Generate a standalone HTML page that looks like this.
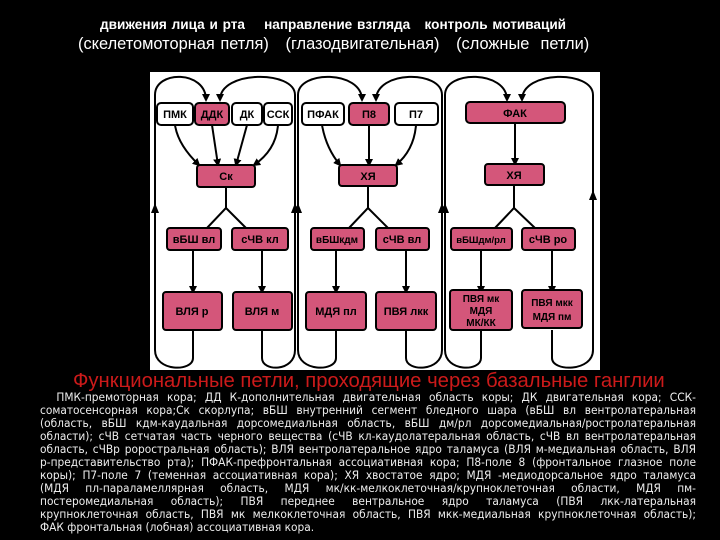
<!DOCTYPE html>
<html><head><meta charset="utf-8"><style>
body{margin:0;width:720px;height:540px;background:#000;overflow:hidden;position:relative;font-family:"Liberation Sans","DejaVu Sans",sans-serif}
.t{position:absolute;color:#fff;white-space:nowrap}
#p{position:absolute;left:40px;top:391px;width:656px;color:#eee;font-size:11.8px;line-height:13px;font-family:"DejaVu Sans Condensed","DejaVu Sans",sans-serif}
#p div{text-align:justify;text-align-last:justify;white-space:nowrap;overflow:hidden}
#p div.l{text-align-last:left}
</style></head><body>
<div class="t" style="left:100px;top:17px;font-size:13.6px;font-weight:bold;word-spacing:1px">движения лица и рта&nbsp;&nbsp;&nbsp; направление взгляда&nbsp;&nbsp; контроль мотиваций</div>
<div class="t" style="left:78px;top:35px;font-size:16.4px;word-spacing:1px">(скелетомоторная петля)&nbsp;&nbsp; (глазодвигательная)&nbsp;&nbsp; (сложные&nbsp; петли)</div>
<svg style="position:absolute;left:0;top:0" width="720" height="540" viewBox="0 0 720 540">
<defs><marker id="a" markerWidth="8" markerHeight="8" refX="6" refY="4" orient="auto" markerUnits="userSpaceOnUse"><path d="M0,0 L8,4 L0,8 Z" fill="#000"/></marker></defs>
<rect x="150" y="72" width="450" height="298" fill="#fff"/>
<g fill="none" stroke="#000" stroke-width="2">
<path d="M193 330 V358 C193 372 155 372 155 350 V95 C155 70 206 70 206 100" marker-end="url(#a)"/>
<path d="M262 330 V358 C262 372 295 372 295 350 V95 C295 70 220 70 220 100" marker-end="url(#a)"/>
<path d="M336 330 V358 C336 372 298 372 298 350 V95 C298 70 362 70 362 100" marker-end="url(#a)"/>
<path d="M406 330 V358 C406 372 442 372 442 350 V95 C442 70 376 70 376 100" marker-end="url(#a)"/>
<path d="M481 330 V358 C481 372 445 372 445 350 V95 C445 70 507 70 507 100" marker-end="url(#a)"/>
<path d="M552 330 V358 C552 372 593 372 593 350 V95 C593 70 522 70 522 100" marker-end="url(#a)"/>
<path d="M175 125 Q178 145 199 165" marker-end="url(#a)"/>
<path d="M212 125 L218 165" marker-end="url(#a)"/>
<path d="M247 125 L236 165" marker-end="url(#a)"/>
<path d="M278 125 Q276 150 254 165" marker-end="url(#a)"/>
<path d="M322 125 Q326 148 340 165" marker-end="url(#a)"/>
<path d="M369 125 L369 165" marker-end="url(#a)"/>
<path d="M416 125 Q414 150 396 165" marker-end="url(#a)"/>
<path d="M515 123 L515 164" marker-end="url(#a)"/>
<path d="M226 187 V208 L207 228 M226 208 L246 228"/>
<path d="M368 186 V208 L349 228 M368 208 L388 228"/>
<path d="M514 185 V208 L495 228 M514 208 L535 228"/>
<path d="M193 250 V292" marker-end="url(#a)"/><path d="M262 250 V292" marker-end="url(#a)"/>
<path d="M336 250 V292" marker-end="url(#a)"/><path d="M406 250 V292" marker-end="url(#a)"/>
<path d="M481 250 V292" marker-end="url(#a)"/><path d="M552 250 V292" marker-end="url(#a)"/>
</g>
<g fill="#000"><path d="M151 213 L155 203 L159 213Z"/><path d="M291 213 L295 203 L299 213Z"/><path d="M294 213 L298 203 L302 213Z"/><path d="M438 213 L442 203 L446 213Z"/><path d="M441 213 L445 203 L449 213Z"/><path d="M589 200 L593 190 L597 200Z"/></g>
<g stroke="#000" stroke-width="2" fill="#d4567a">
<rect x="157" y="103" width="36" height="22" rx="4" fill="#fff"/>
<rect x="195" y="103" width="34" height="22" rx="4"/>
<rect x="232" y="103" width="30" height="22" rx="4" fill="#fff"/>
<rect x="264" y="103" width="28" height="22" rx="4" fill="#fff"/>
<rect x="302" y="103" width="42" height="22" rx="4" fill="#fff"/>
<rect x="349" y="103" width="40" height="22" rx="4"/>
<rect x="395" y="103" width="43" height="22" rx="4" fill="#fff"/>
<rect x="466" y="102" width="99" height="21" rx="4"/>
<rect x="197" y="165" width="58" height="22" rx="3"/>
<rect x="339" y="165" width="58" height="21" rx="3"/>
<rect x="485" y="164" width="59" height="21" rx="3"/>
<rect x="167" y="228" width="54" height="22" rx="3"/>
<rect x="232" y="228" width="56" height="22" rx="3"/>
<rect x="311" y="228" width="53" height="22" rx="3"/>
<rect x="376" y="228" width="53" height="22" rx="3"/>
<rect x="451" y="228" width="61" height="22" rx="3"/>
<rect x="522" y="228" width="53" height="22" rx="3"/>
<rect x="163" y="292" width="59" height="38" rx="3"/>
<rect x="233" y="292" width="59" height="38" rx="3"/>
<rect x="306" y="292" width="60" height="38" rx="3"/>
<rect x="376" y="292" width="60" height="38" rx="3"/>
<rect x="450" y="290" width="62" height="40" rx="3"/>
<rect x="522" y="290" width="60" height="38" rx="3"/>
</g>
<g font-family="Liberation Sans,sans-serif" font-weight="bold" font-size="11" text-anchor="middle" fill="#000">
<text x="175" y="118">ПМК</text><text x="212" y="118">ДДК</text><text x="247" y="118">ДК</text><text x="278" y="118">ССК</text>
<text x="323" y="118">ПФАК</text><text x="369" y="118">П8</text><text x="416" y="118">П7</text><text x="515" y="117">ФАК</text>
<text x="226" y="180">Ск</text><text x="368" y="180">ХЯ</text><text x="514" y="179">ХЯ</text>
<text x="194" y="243">вБШ вл</text><text x="260" y="243">сЧВ кл</text><text x="337" y="243" font-size="10">вБШкдм</text><text x="402" y="243">сЧВ вл</text><text x="481" y="243" font-size="9.5">вБШдм/рл</text><text x="548" y="243">сЧВ ро</text>
<text x="192" y="315">ВЛЯ р</text><text x="262" y="315">ВЛЯ м</text><text x="336" y="315">МДЯ пл</text><text x="406" y="315">ПВЯ лкк</text>
<text x="481" y="302" font-size="10">ПВЯ мк</text><text x="481" y="314" font-size="10">МДЯ</text><text x="481" y="326" font-size="10">МК/КК</text>
<text x="552" y="306" font-size="10">ПВЯ мкк</text><text x="552" y="320" font-size="10">МДЯ пм</text>
</g>
</svg>
<div class="t" style="left:73px;top:370px;font-size:20.3px;color:#cc1a1a">Функциональные петли, проходящие через базальные ганглии</div>
<div id="p">
<div>&nbsp;&nbsp;ПМК-премоторная кора; ДД К-дополнительная двигательная область коры; ДК двигательная кора; ССК-</div>
<div>соматосенсорная кора;Ск скорлупа; вБШ внутренний сегмент бледного шара (вБШ вл вентролатеральная</div>
<div>(область, вБШ кдм-каудальная дорсомедиальная область, вБШ дм/рл дорсомедиальная/ростролатеральная</div>
<div>области); сЧВ сетчатая часть черного вещества (сЧВ кл-каудолатеральная область, сЧВ вл вентролатеральная</div>
<div>область, сЧВр роростральная область); ВЛЯ вентролатеральное ядро таламуса (ВЛЯ м-медиальная область, ВЛЯ</div>
<div>р-представительство рта); ПФАК-префронтальная ассоциативная кора; П8-поле 8 (фронтальное глазное поле</div>
<div>коры); П7-поле 7 (теменная ассоциативная кора); ХЯ хвостатое ядро; МДЯ -медиодорсальное ядро таламуса</div>
<div>(МДЯ пл-параламеллярная область, МДЯ мк/кк-мелкоклеточная/крупноклеточная области, МДЯ пм-</div>
<div>постеромедиальная область); ПВЯ переднее вентральное ядро таламуса (ПВЯ лкк-латеральная</div>
<div>крупноклеточная область, ПВЯ мк мелкоклеточная область, ПВЯ мкк-медиальная крупноклеточная область);</div>
<div class="l">ФАК фронтальная (лобная) ассоциативная кора.</div>
</div>
</body></html>
